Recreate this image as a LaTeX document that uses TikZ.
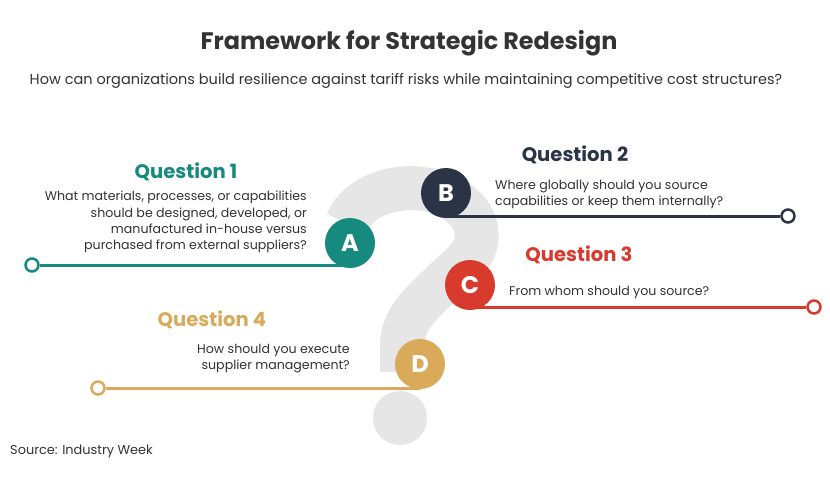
\documentclass[tikz,border=0pt]{standalone}
\usepackage{fontspec}
\setmainfont{Poppins}
\definecolor{qA}{HTML}{178A80}
\definecolor{qB}{HTML}{2B3447}
\definecolor{qC}{HTML}{D83A2E}
\definecolor{qD}{HTML}{D9AA5A}
\definecolor{qgrey}{HTML}{E6E6E6}
\definecolor{txt}{HTML}{333333}
\pgfdeclarelayer{bg}
\pgfdeclarelayer{mid}
\pgfsetlayers{bg,mid,main}
\tikzset{
  letter/.style={circle, fill=#1, minimum size=50, inner sep=0, text=white, font=\bfseries\fontsize{24}{24}\selectfont},
  endring/.style={circle, draw=#1, line width=2.5, fill=white, minimum size=13, inner sep=0},
  conn/.style={draw=#1, line width=3},
  qhead/.style={text=#1, font=\bfseries\fontsize{19.6}{19.6}\selectfont, inner sep=0},
  body/.style={text=txt, font=\fontsize{12.6}{16.4}\selectfont, inner sep=0}
}
\begin{document}
\begin{tikzpicture}[x=1pt,y=-1pt]
\useasboundingbox (0,0) rectangle (830,480);
% big question mark
\begin{pgfonlayer}{bg}
\fill[white] (0,0) rectangle (830,480);
\draw[qgrey, line width=44] (347,223) arc[start angle=195, end angle=400, x radius=66, y radius=47]
  .. controls (425,300) and (403,315) .. (402,345) -- (402,372);
\fill[qgrey] (400,418) circle[radius=27];
\end{pgfonlayer}
% title
\node[text=txt, font=\bfseries\fontsize{23.9}{23.9}\selectfont, inner sep=0] (title) at (409,43) {Framework for Strategic Redesign};
\node[text=txt, font=\fontsize{14.5}{14.5}\selectfont, inner sep=0] (sub) at (406,81) {How can organizations build resilience against tariff risks while maintaining competitive cost structures?};
% letters
\node[letter=qA] (A) at (350,243) {A};
\node[letter=qB] (B) at (446,193) {B};
\node[letter=qC] (C) at (470,285) {C};
\node[letter=qD] (D) at (420,364) {D};
% end rings
\node[endring=qA] (oA) at (32,265) {};
\node[endring=qB] (oB) at (788,216) {};
\node[endring=qC] (oC) at (814,307) {};
\node[endring=qD] (oD) at (98,388) {};
\begin{pgfonlayer}{mid}
\draw[conn=qA] (oA.east) -- (oA -| A);
\draw[conn=qB] (oB.west) -- (oB -| B);
\draw[conn=qC] (oC.west) -- (oC -| C);
\draw[conn=qD] (oD.east) -- (oD -| D);
\end{pgfonlayer}
% question headings
\node[qhead=qA] (h1) at (186,172) {Question 1};
\node[qhead=qB] (h2) at (575,155) {Question 2};
\node[qhead=qC] (h3) at (579,255) {Question 3};
\node[qhead=qD] (h4) at (212,320) {Question 4};
% bodies
\node[body, anchor=north east, align=right] (b1) at (307,191) {What materials, processes, or capabilities\\should be designed, developed, or\\manufactured in-house versus\\purchased from external suppliers?};
\node[body, anchor=north west, align=left] (b2) at (495,180) {Where globally should you source\\capabilities or keep them internally?};
\node[body, anchor=north west, align=left] (b3) at (509,286) {From whom should you source?};
\node[body, anchor=north east, align=right] (b4) at (350,344) {How should you execute\\supplier management?};
% source
\node[text=txt, font=\fontsize{12.9}{12.9}\selectfont, anchor=west, inner sep=0] (src) at (10,451) {Source: Industry Week};
\end{tikzpicture}
\end{document}
